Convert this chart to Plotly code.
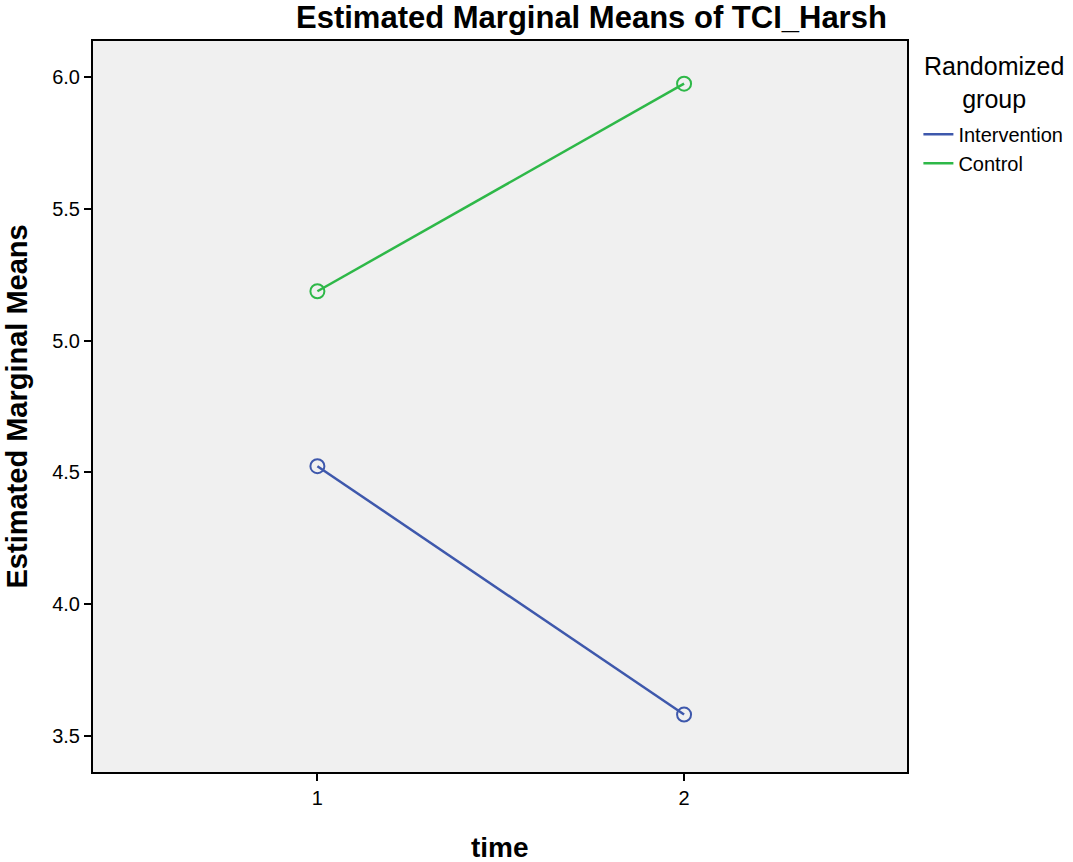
import plotly.graph_objects as go

time_points = [1, 2]
groups = ["Intervention", "Control"]
intervention_means = [4.524, 3.581]
control_means = [5.188, 5.976]
colors = {"Intervention": "#3E58AC", "Control": "#2EB848"}

series = {"Intervention": intervention_means, "Control": control_means}

FONT = "Liberation Sans, Arial, sans-serif"

fig = go.Figure()
for g in groups:
    fig.add_trace(go.Scatter(
        x=time_points, y=series[g], name=g, mode="lines",
        line=dict(color=colors[g], width=2.5),
    ))
for g in groups:
    fig.add_trace(go.Scatter(
        x=time_points, y=series[g], name=g, mode="markers",
        marker=dict(symbol="circle-open", size=14, color=colors[g],
                    line=dict(width=2, color=colors[g])),
        showlegend=False,
    ))

fig.update_layout(
    width=1073, height=862,
    margin=dict(l=93, r=166, t=41, b=90, autoexpand=False),
    paper_bgcolor="white", plot_bgcolor="#F0F0F0",
    font=dict(family=FONT, color="black", size=20),
    showlegend=True,
    legend=dict(
        x=1.014, xanchor="left", y=0.899, yanchor="top",
        font=dict(size=20, family=FONT),
        bgcolor="rgba(0,0,0,0)", tracegroupgap=0,
    ),
    xaxis=dict(
        range=[0.388, 2.608], tickvals=time_points, ticktext=["1", "2"],
        showgrid=False, zeroline=False,
        showline=True, mirror=True, linecolor="black", linewidth=2,
        ticks="outside", ticklen=7, tickwidth=2, tickcolor="black",
        tickfont=dict(size=20),
    ),
    yaxis=dict(
        range=[3.363, 6.138], tickvals=[3.5, 4.0, 4.5, 5.0, 5.5, 6.0],
        ticktext=["3.5", "4.0", "4.5", "5.0", "5.5", "6.0"],
        showgrid=False, zeroline=False,
        showline=True, mirror=True, linecolor="black", linewidth=2,
        ticks="outside", ticklen=7, tickwidth=2, tickcolor="black",
        tickfont=dict(size=20),
    ),
    annotations=[
        dict(text="<b>Estimated Marginal Means of TCI_Harsh</b>",
             xref="paper", yref="paper", x=0.612, y=1 + 24/732,
             xanchor="center", yanchor="middle", showarrow=False,
             font=dict(size=31, family=FONT)),
        dict(text="<b>Estimated Marginal Means</b>",
             xref="paper", yref="paper", x=-77/814, y=0.5, textangle=-90,
             xanchor="center", yanchor="middle", showarrow=False,
             font=dict(size=29, family=FONT)),
        dict(text="<b>time</b>",
             xref="paper", yref="paper", x=0.5, y=-76/732,
             xanchor="center", yanchor="middle", showarrow=False,
             font=dict(size=28, family=FONT)),
        dict(text="Randomized<br>group", align="center",
             xref="paper", yref="paper", x=(994-93)/814, y=1 - (83-41)/732,
             xanchor="center", yanchor="middle", showarrow=False,
             font=dict(size=25, family=FONT)),
    ],
)

fig.write_html("out.html", config={"displayModeBar": False})
with open("out.html", "r", encoding="utf-8") as f:
    html = f.read()
html = html.replace("<body>", '<body style="margin:0;padding:0">', 1)
with open("out.html", "w", encoding="utf-8") as f:
    f.write(html)
